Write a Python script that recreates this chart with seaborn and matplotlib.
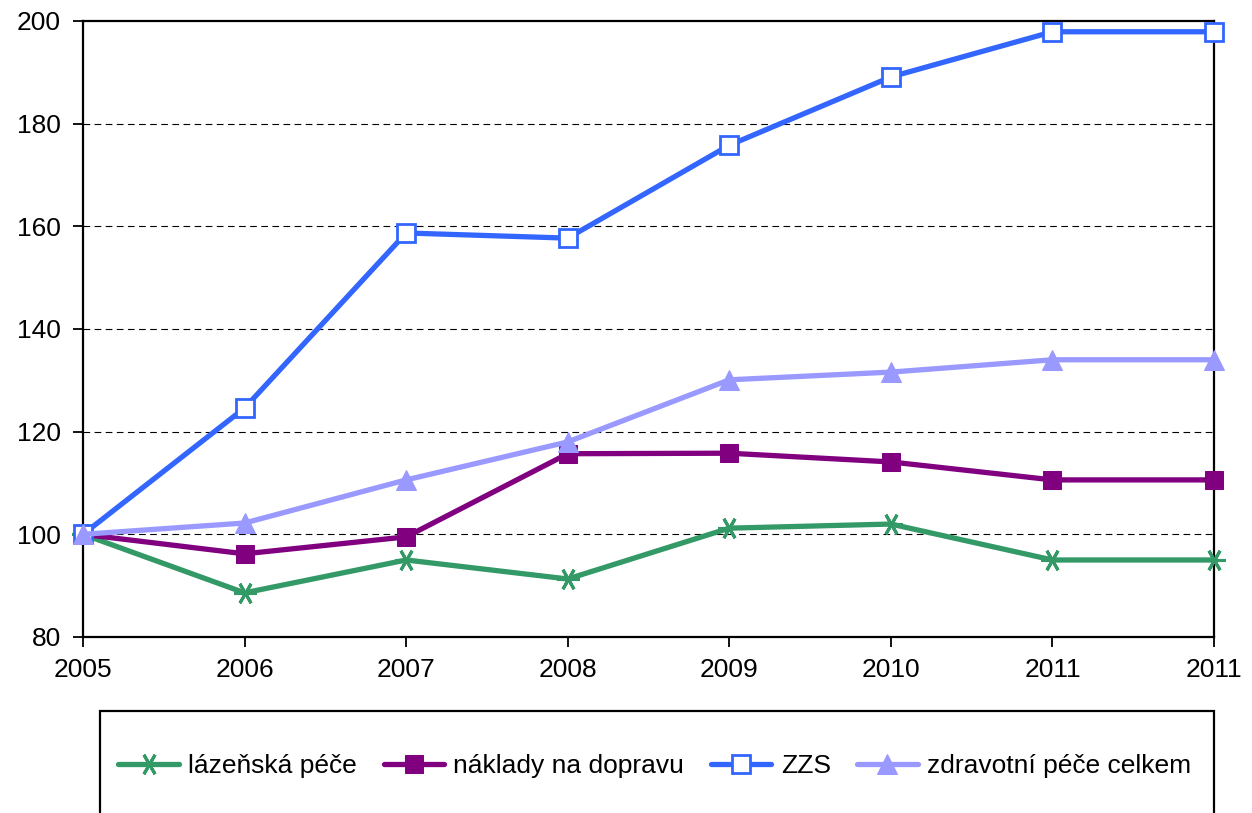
import matplotlib
matplotlib.use("Agg")
import matplotlib.pyplot as plt
import seaborn as sns
import numpy as np
from matplotlib.patches import Rectangle

# Data (index, 2005 = 100)
years = ["2005", "2006", "2007", "2008", "2009", "2010", "2011", "2011"]
lazenska = [100, 88.6, 95.0, 91.3, 101.2, 102.0, 95.0, 95.0]
naklady = [100, 96.2, 99.5, 115.7, 115.8, 114.1, 110.6, 110.6]
zzs = [100, 124.6, 158.7, 157.7, 175.8, 189.1, 197.9, 197.9]
zdravotni = [100, 102.2, 110.6, 118.0, 130.1, 131.6, 134.0, 134.0]

series_names = ["lázeňská péče", "náklady na dopravu", "ZZS", "zdravotní péče celkem"]
yticks = [80, 100, 120, 140, 160, 180, 200]

sns.set_theme(style="white")
plt.rcParams["font.family"] = ["Liberation Sans", "DejaVu Sans"]
plt.rcParams["text.color"] = "black"

fig = plt.figure(figsize=(12.52, 8.13), dpi=100)
ax = fig.add_axes([0.0663, 0.2165, 0.9034, 0.7577])

x = np.arange(len(years))

styles = [
    (lazenska, "#339966", dict(marker=(6, 2, 30), markersize=16, markeredgewidth=2.2,
                               markeredgecolor="#339966")),
    (naklady, "#800080", dict(marker="s", markersize=13, markeredgecolor="#800080")),
    (zzs, "#3366FF", dict(marker="s", markersize=13, markerfacecolor="white",
                          markeredgewidth=2, markeredgecolor="#3366FF")),
    (zdravotni, "#9999FF", dict(marker="^", markersize=14, markeredgecolor="#9999FF")),
]

for (vals, col, mk), name in zip(styles, series_names):
    sns.lineplot(x=x, y=vals, color=col, linewidth=3.8, label=name, ax=ax,
                 clip_on=False, zorder=3, **mk)

ax.set_xlim(0, len(years) - 1)
ax.set_ylim(80, 200)
ax.set_yticks(yticks)
ax.set_xticks(x)
ax.set_xticklabels(years)
ax.tick_params(axis="both", labelsize=19, length=7, width=1.3, color="black",
               labelcolor="black", direction="out", left=True, bottom=True)
ax.tick_params(axis="y", pad=9)
ax.tick_params(axis="x", pad=8)

for g in [100, 120, 140, 160, 180]:
    ax.axhline(g, color="black", linewidth=0.8, linestyle=(0, (6, 4)), zorder=1)

for s in ax.spines.values():
    s.set_color("black")
    s.set_linewidth(1.6)

ax.get_legend().remove()
handles, labels = ax.get_legend_handles_labels()
fig.legend(handles, labels, loc="center", bbox_to_anchor=(0.523, 0.058), ncol=4,
           frameon=False, fontsize=19, handlelength=2.3, handletextpad=0.35,
           columnspacing=1.0)

# legend frame, running off the bottom edge as in the reference
fig.patches.append(Rectangle((100 / 1252, -0.05), (1214 - 100) / 1252, (813 - 711) / 813 + 0.05,
                             transform=fig.transFigure, fill=False, edgecolor="black",
                             linewidth=1.6, clip_on=False))

fig.savefig("out.png", dpi=100)
